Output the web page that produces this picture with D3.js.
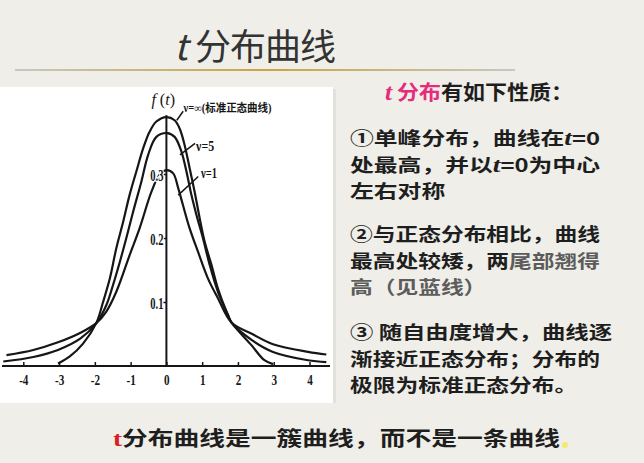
<!DOCTYPE html>
<html><head><meta charset="utf-8">
<script src="https://cdn.jsdelivr.net/npm/d3@7"></script>
<style>
html,body{margin:0;padding:0;background:#efeee8;}
svg{display:block;}
</style></head>
<body>
<svg id="c" width="644" height="463"></svg>
<script>
// ---- data ----
const xTicks = [-4,-3,-2,-1,0,1,2,3,4];
const xTickLabels = ["-4","-3","-2","-1","0","1","2","3","4"];
const yTicks = [0.1,0.2,0.3];
const yTickLabels = ["0.1","0.2","0.3"];

// nu = infinity (standard normal)
const tInf = [-3.03,-2.70,-2.33,-1.96,-1.77,-1.58,-1.40,-1.21,-1.03,-0.84,-0.65,-0.47,-0.28,0,0.23,0.37,0.51,0.65,0.79,0.93,1.07,1.26,1.44,1.68,1.82,2.37,2.74,2.98];
const fInf = [0.004,0.015,0.035,0.067,0.100,0.137,0.184,0.225,0.267,0.304,0.340,0.366,0.382,0.389,0.384,0.371,0.345,0.309,0.272,0.231,0.194,0.158,0.121,0.085,0.068,0.033,0.009,0.003];
// nu = 5
const t5 = [-4.56,-3.72,-3.03,-2.4,-1.96,-1.68,-1.49,-1.30,-1.12,-0.93,-0.70,-0.51,-0.28,0.02,0.23,0.42,0.56,0.70,0.84,1.02,1.21,1.44,1.72,1.82,2.4,2.98,3.96,4.47];
const f5 = [0.007,0.014,0.025,0.043,0.067,0.095,0.127,0.163,0.200,0.241,0.288,0.330,0.358,0.364,0.358,0.335,0.304,0.267,0.236,0.200,0.158,0.116,0.080,0.068,0.040,0.022,0.009,0.006];
// nu = 1
const t1 = [-4.47,-3.72,-3.03,-2.4,-1.96,-1.68,-1.40,-1.03,-0.75,-0.42,-0.2,0,0.19,0.33,0.46,0.65,0.88,1.16,1.44,1.82,2.4,2.98,3.96,4.47];
const f1 = [0.017,0.025,0.037,0.052,0.067,0.085,0.116,0.173,0.215,0.272,0.298,0.306,0.301,0.278,0.252,0.215,0.179,0.137,0.106,0.068,0.050,0.034,0.022,0.018];

const curveNames = ["ν=∞(标准正态曲线)","ν=5","ν=1"];
// leader lines [t0,f0,t1,f1] and label anchor [t,f]
const leaders = [[0.29,0.384,0.47,0.398],[0.38,0.330,0.80,0.348],[0.33,0.267,0.89,0.296]];
const labelAt = [[0.48,0.397],[0.83,0.336],[0.97,0.294]];

const title = "t分布曲线";
// segments: [text, style]  n=normal, i=italic t, p=pink, pi=pink italic, g=gray, serif
const headLine = [["t","pi"],["\u00a0分布","p"],["有如下性质：","n"]];
const para1 = [[["①单峰分布，曲线在","n"],["t","i"],["=0","n"]],
               [["处最高，并以","n"],["t","i"],["=0为中心","n"]],
               [["左右对称","n"]]];
const para2 = [[["②与正态分布相比，曲线","n"]],
               [["最高处较矮，两","n"],["尾部翘得","g"]],
               [["高（见蓝线）","g"]]];
const para3 = [[["③\u00a0随自由度增大，曲线逐","n"]],
               [["渐接近正态分布；分布的","n"]],
               [["极限为标准正态分布。","n"]]];
const footer = [["t","serif"],["分布曲线是一簇曲线，而不是一条曲线","n"]];

// ---- drawing ----
const svg = d3.select("#c");
const defs = svg.append("defs");
const g1 = defs.append("linearGradient").attr("id","rule");
g1.append("stop").attr("offset","0%").attr("stop-color","#c8c8c0");
g1.append("stop").attr("offset","50%").attr("stop-color","#c9a542");
g1.append("stop").attr("offset","100%").attr("stop-color","#c8c8c0");

svg.append("rect").attr("width",644).attr("height",463).attr("fill","#efeee8");
// title
const fontCJK = "'Noto Sans CJK SC'";
svg.append("text").attr("x",174).attr("y",60)
  .attr("font-family",fontCJK).attr("font-size",36).attr("fill","#333").attr("font-style","italic").text(title[0]);
svg.append("text").attr("x",195).attr("y",60)
  .attr("font-family",fontCJK).attr("font-size",36).attr("fill","#333").attr("letter-spacing",-1).text(title.slice(1));
svg.append("rect").attr("x",15).attr("y",69).attr("width",500).attr("height",2).attr("fill","url(#rule)");

// chart panel
svg.append("rect").attr("x",333).attr("y",89).attr("width",3).attr("height",314).attr("fill","#e2e2dc");
svg.append("rect").attr("x",0).attr("y",87).attr("width",333).attr("height",316).attr("fill","#fff");

const x = d3.scaleLinear().domain([-4,4]).range([23.3,309.5]);
const y = d3.scaleLinear().domain([0,0.4]).range([366,110]);
const chart = svg.append("g");
const ink = "#161616";

// x axis
chart.append("line").attr("x1",2).attr("x2",330).attr("y1",y(0)).attr("y2",y(0)).attr("stroke",ink).attr("stroke-width",2);
const xAxis = d3.axisBottom(x).tickValues(xTicks).tickFormat((d,i)=>xTickLabels[i]).tickSizeInner(-4).tickSizeOuter(0).tickPadding(8);
const xa = chart.append("g").attr("transform",`translate(0,${y(0)})`).call(xAxis);
xa.select(".domain").remove();
xa.selectAll("line").attr("stroke",ink).attr("stroke-width",1.5);
xa.selectAll("text").attr("font-family","'Liberation Serif'").attr("font-weight","bold").attr("font-size",15.5)
  .attr("fill",ink).attr("transform","scale(0.72,1)");

// curves
const line = d3.line().x(d=>x(d[0])).y(d=>y(d[1])).curve(d3.curveCatmullRom.alpha(0.5));
const series = [[tInf,fInf],[t5,f5],[t1,f1]];
series.forEach(([ts,fs])=>{
  chart.append("path").datum(ts.map((t,i)=>[t,fs[i]])).attr("d",line)
    .attr("fill","none").attr("stroke",ink).attr("stroke-width",2.2);
});

// y axis
chart.append("line").attr("x1",x(0)).attr("x2",x(0)).attr("y1",y(0)).attr("y2",y(0.392)).attr("stroke",ink).attr("stroke-width",2);
const yAxis = d3.axisLeft(y).tickValues(yTicks).tickFormat((d,i)=>yTickLabels[i]).tickSizeInner(3).tickSizeOuter(0).tickPadding(1);
const ya = chart.append("g").attr("transform",`translate(${x(0)},0)`).call(yAxis);
ya.select(".domain").remove();
ya.selectAll("line").attr("stroke",ink).attr("stroke-width",1.5);
const ys = 0.62;
ya.selectAll("text").attr("font-family","'Liberation Serif'").attr("font-weight","bold").attr("font-size",17)
  .attr("fill",ink).attr("stroke","#fff").attr("stroke-width",3).attr("paint-order","stroke")
  .attr("transform",`scale(${ys},1)`).attr("x",-3/ys).attr("dy","0.4em");

// f(t) label
chart.append("text").attr("x",x(0)-15).attr("y",y(0.4)-5).attr("font-family","'Liberation Serif'")
  .attr("font-size",16).attr("fill",ink)
  .call(t=>{t.append("tspan").attr("font-style","italic").text("f");t.append("tspan").text(" (");t.append("tspan").attr("font-style","italic").text("t");t.append("tspan").text(")");});

// leaders and labels
leaders.forEach(l=>{
  chart.append("line").attr("x1",x(l[0])).attr("y1",y(l[1])).attr("x2",x(l[2])).attr("y2",y(l[3]))
    .attr("stroke",ink).attr("stroke-width",1.5);
});
const lblW = [88,18,16];
const lblS = [11.5,15,15];
curveNames.forEach((n,i)=>{
  chart.append("text").attr("x",x(labelAt[i][0])).attr("y",y(labelAt[i][1]))
    .attr("font-family","'Liberation Serif','Noto Sans CJK SC'").attr("font-weight","bold").attr("font-size",lblS[i])
    .attr("fill",ink).attr("textLength",lblW[i]).attr("lengthAdjust","spacingAndGlyphs").text(n);
});

// right-side text: each segment its own text element, glyphs stretched to a target width
const styleOf = {
  n:{fill:"#1e1e1e"}, g:{fill:"#5c5c5c"}, p:{fill:"#e52b7c"},
  i:{fill:"#1e1e1e",italic:true,serif:true,scale:1.15}, pi:{fill:"#e52b7c",italic:true,serif:true,scale:1.15},
  serif:{fill:null,serif:true,scale:1.05}
};
function drawLine(segs, x0, y0, size, target, baseFill, factor){
  const made = segs.map(([txt,st])=>{
    const s = styleOf[st];
    return svg.append("text").attr("y",y0).attr("font-weight","bold")
      .attr("font-family", s.serif ? "'Liberation Serif'" : fontCJK)
      .attr("font-size", size*(s.scale||1))
      .attr("fill", s.fill || baseFill)
      .attr("font-style", s.italic ? "italic" : null).text(txt);
  });
  const nat = made.map(el=>el.node().getComputedTextLength());
  const total = nat.reduce((a,b)=>a+b,0);
  const k = target ? target/total : (factor||1);
  let cx = x0;
  made.forEach((el,i)=>{
    const w = nat[i]*k;
    el.attr("x",cx).attr("textLength",w).attr("lengthAdjust","spacingAndGlyphs");
    cx += w;
  });
  return k;
}
drawLine(headLine,385,100,20,188,"#1e1e1e");
const lh = 26.5;
[[para1,145,[250,250,0]],[para2,241,[250,250,0]],[para3,339,[262,250,0]]].forEach(([p,y0,w])=>{
  let k = 1;
  p.forEach((segs,i)=>{
    k = drawLine(segs,350,y0+i*lh,18.2,w[i],"#1e1e1e",k);
  });
});

// footer
drawLine(footer,113,446,20,447,"#d9201e");
svg.append("circle").attr("cx",565).attr("cy",445).attr("r",3).attr("fill","#f3ea70");
</script>
</body></html>
